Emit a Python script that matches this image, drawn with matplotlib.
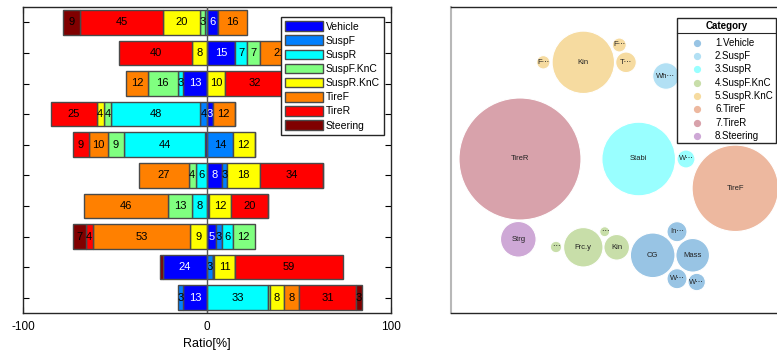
import matplotlib
matplotlib.use("Agg")
import matplotlib.pyplot as plt
from matplotlib.patches import Circle, Rectangle
import numpy as np

plt.rcParams['font.family'] = ['Liberation Sans', 'DejaVu Sans']
plt.rcParams['axes.unicode_minus'] = False

# ---- stacked contribution bars (signed: negative = left of zero) ----
categories = ["Vehicle", "SuspF", "SuspR", "SuspF.KnC", "SuspR.KnC", "TireF", "TireR", "Steering"]
bar_colors = ["#0000ff", "#0080ff", "#00ffff", "#80ff80", "#ffff00", "#ff8000", "#ff0000", "#800000"]

vehicle   = [6, 15, -13, 3, -1, 8, 1, 5, -24, -13]
susp_f    = [0, 0, 0, -4, 14, 3, 0, 3, 3, -3]
susp_r    = [-1, 7, -3, -48, -44, -6, -8, 6, 0, 33]
susp_fknc = [-3, 7, -16, -4, -9, -4, -13, 12, 1, 1]
susp_rknc = [-20, -8, 10, -4, 12, 18, 12, -9, 11, 8]
tire_f    = [16, 21, -12, 12, -10, -27, -46, -53, 0, 8]
tire_r    = [-45, -40, 32, -25, -9, 34, 20, -4, 59, 31]
steering  = [-9, 0, 0, 0, 0, 0, 0, -7, -1.5, 3]

series = [vehicle, susp_f, susp_r, susp_fknc, susp_rknc, tire_f, tire_r, steering]
rows = np.arange(1, len(vehicle) + 1)

# ---- bubble chart ----
bubble_groups = ["1.Vehicle", "2.SuspF", "3.SuspR", "4.SuspF.KnC",
                 "5.SuspR.KnC", "6.TireF", "7.TireR", "8.Steering"]
bubble_colors = ["#98c4e4", "#b2e0f4", "#99ffff", "#c8dea9",
                 "#f6dba0", "#edb89f", "#d8a2ab", "#cea8d6"]
bubble_names = ["Kin", "F\u22ef", "F\u22ef", "T\u22ef", "Wh\u22ef", "TireR", "Stabi", "W\u22ef",
                "TireF", "Strg", "\u22ef", "Frc.y", "\u22ef", "Kin", "CG", "In\u22ef",
                "Mass", "W\u22ef", "W\u22ef"]
bubble_group = [4, 4, 4, 4, 1, 6, 2, 2, 5, 7, 3, 3, 3, 3, 0, 0, 0, 0, 0]
bubble_x = [132.3, 92.3, 168.3, 175.0, 215.0, 69.0, 187.7, 235.0, 284.3, 67.3,
            105.0, 132.3, 153.7, 165.7, 201.7, 226.0, 241.7, 226.0, 245.7]
bubble_y = [250.7, 250.7, 268.0, 250.7, 237.0, 154.0, 154.0, 154.0, 124.7, 73.7,
            66.0, 65.7, 81.3, 65.7, 57.7, 81.3, 57.7, 34.3, 31.0]
bubble_r = [31.2, 6.7, 7.0, 10.3, 13.3, 61.0, 36.8, 9.0, 43.2, 17.8,
            5.7, 19.7, 5.0, 12.8, 22.3, 10.0, 16.8, 10.0, 8.7]

W, H = 777, 354
fig = plt.figure(figsize=(W / 100, H / 100), dpi=100)

# ================= left: diverging stacked bars =================
ax1 = fig.add_axes([23 / W, 41 / H, 368 / W, 306 / H])
pos_left = np.zeros(len(rows))
neg_left = np.zeros(len(rows))
for vals, cat, col in zip(series, categories, bar_colors):
    vals = np.asarray(vals, dtype=float)
    left = np.where(vals >= 0, pos_left, neg_left)
    ax1.barh(rows, vals, left=left, height=0.8, color=col,
             edgecolor="#4a4a4a", linewidth=1.0, label=cat, zorder=2)
    txt_col = "white" if cat == "Vehicle" else "black"
    for r, v, l in zip(rows, vals, left):
        if abs(v) >= 2.5:
            ax1.text(l + v / 2, r, f"{abs(v):.0f}", ha="center", va="center",
                     fontsize=8, color=txt_col, zorder=3)
    pos_left = pos_left + np.where(vals > 0, vals, 0)
    neg_left = neg_left + np.where(vals < 0, vals, 0)

ax1.axvline(0, color="#555555", linewidth=1.0, zorder=4)
ax1.set_xlim(-100, 100)
ax1.set_ylim(len(rows) + 0.5, 0.5)
ax1.set_yticks(rows)
ax1.set_yticklabels([])
ax1.set_xticks([-100, 0, 100])
ax1.tick_params(axis="y", direction="in", length=4, right=True, left=True, width=0.8)
ax1.tick_params(axis="x", direction="in", length=4, top=True, labelsize=8.5, pad=6, width=0.8)
ax1.set_xlabel("Ratio[%]", fontsize=9, labelpad=3)
for s in ax1.spines.values():
    s.set_color("#262626")
    s.set_linewidth(1.0)
leg = ax1.legend(loc="upper right", bbox_to_anchor=(0.981, 0.967), borderaxespad=0,
                 fontsize=7.5, handlelength=3.6, handleheight=1.05, labelspacing=0.36,
                 handletextpad=0.3, borderpad=0.4, fancybox=False, framealpha=1,
                 edgecolor="#262626")
leg.set_zorder(10)
leg.get_frame().set_linewidth(1.0)

# ================= right: packed bubbles =================
ax2 = fig.add_axes([451 / W, 41 / H, 360 / W, 306 / H])
ax2.set_xlim(0, 360)
ax2.set_ylim(0, 306)
ax2.set_xticks([])
ax2.set_yticks([])
ax2.spines["left"].set_color("#b8b8b8")
ax2.spines["left"].set_linewidth(1.5)
for side in ("top", "bottom"):
    ax2.spines[side].set_color("#262626")
    ax2.spines[side].set_linewidth(1.0)
ax2.spines["right"].set_visible(False)

for name, g, x, y, r in zip(bubble_names, bubble_group, bubble_x, bubble_y, bubble_r):
    ax2.add_patch(Circle((x, y), r, facecolor=bubble_colors[g],
                         edgecolor="white", linewidth=0.8, zorder=2))
    ax2.text(x, y, name, ha="center", va="center", fontsize=5.5, color="#222222", zorder=3)

# category key
ax2.add_patch(Rectangle((226, 170), 99.3, 125, facecolor="white",
                        edgecolor="#262626", linewidth=1.0, zorder=5, clip_on=False))
ax2.plot([226, 325.3], [279.7, 279.7], color="#262626", linewidth=0.8, zorder=6)
ax2.text(275.6, 287.3, "Category", ha="center", va="center", fontsize=7,
         fontweight="bold", zorder=6)
for i, (lab, col) in enumerate(zip(bubble_groups, bubble_colors)):
    yy = 270.3 - 13.3 * i
    ax2.plot([245.7], [yy], marker="o", markersize=4.2, color=col,
             markeredgecolor=col, linestyle="none", zorder=6)
    ax2.text(264, yy, lab, ha="left", va="center", fontsize=7, zorder=6)

fig.savefig("out.png", dpi=100)
